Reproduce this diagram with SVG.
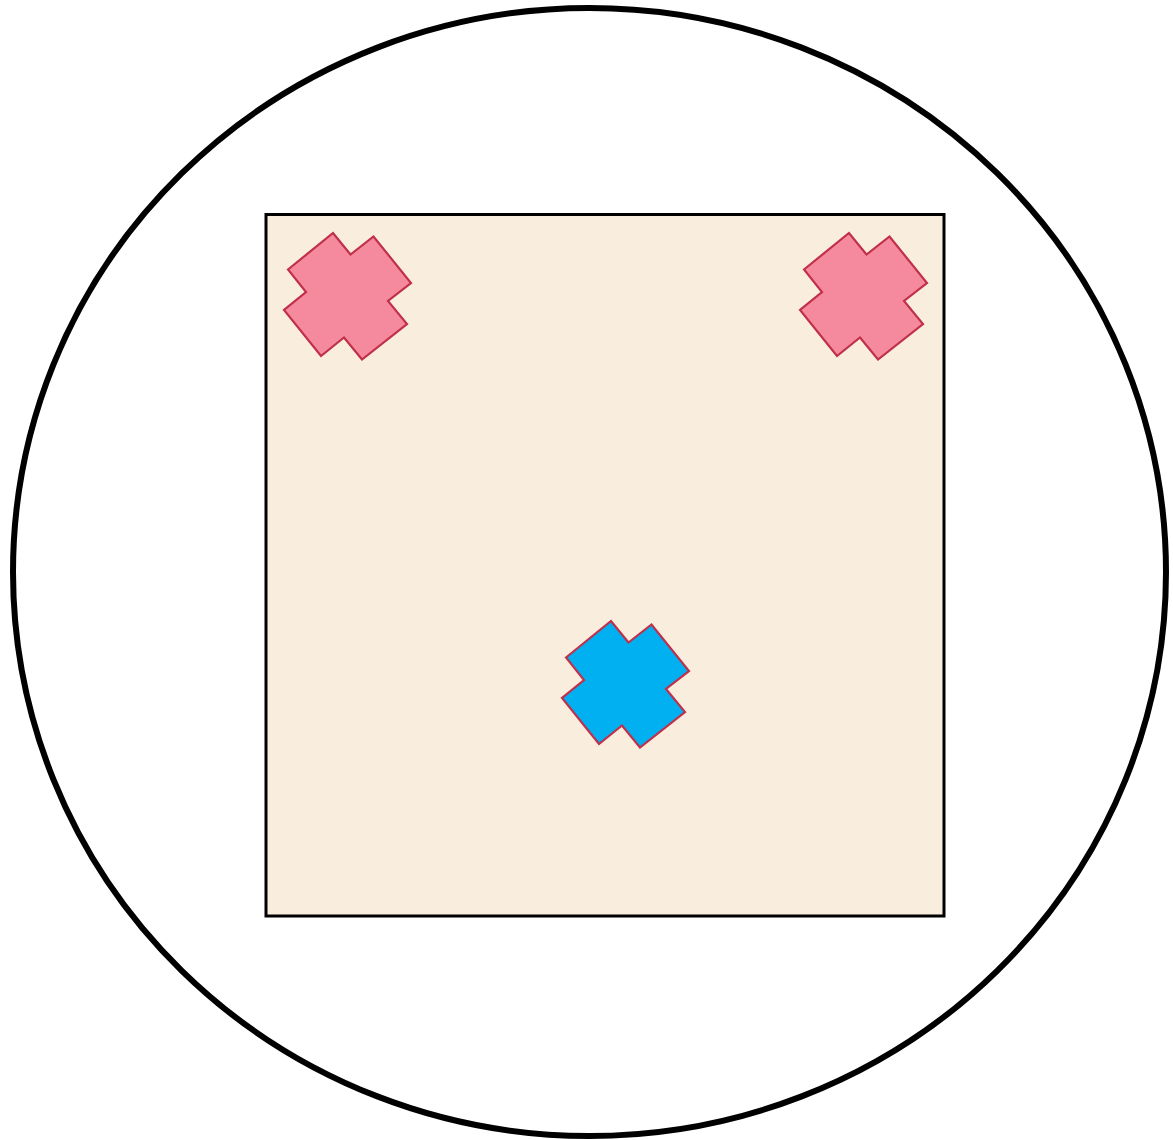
<svg xmlns="http://www.w3.org/2000/svg" width="1173" height="1140" viewBox="0 0 1173 1140">
<style>
.cross{stroke:#C0304A;stroke-width:2.2;stroke-linejoin:miter}
.pink{fill:#F58A9E}
.blue{fill:#00B0F0}
</style>
<defs>
<polygon id="x" points="288,269.5 333,233 350.5,254.5 373.5,236.5 411,283 388,301 407,324 362,359.5 344,337.5 321,356 284,310 306,292"/>
</defs>
<rect width="1173" height="1140" fill="#FFFFFF"/>
<g id="boundary">
<ellipse cx="589.5" cy="572" rx="576.5" ry="564" fill="none" stroke="#000" stroke-width="6"/>
</g>
<g id="field">
<rect x="266" y="214.5" width="678" height="701.5" fill="#F9EEDD" stroke="#000" stroke-width="3"/>
</g>
<g id="cross-top-left"><use href="#x" class="cross pink"/></g>
<g id="cross-top-right"><use href="#x" class="cross pink" transform="translate(516,0)"/></g>
<g id="cross-center"><use href="#x" class="cross blue" transform="translate(278,388)"/></g>
<g id="connectors"/>
</svg>
